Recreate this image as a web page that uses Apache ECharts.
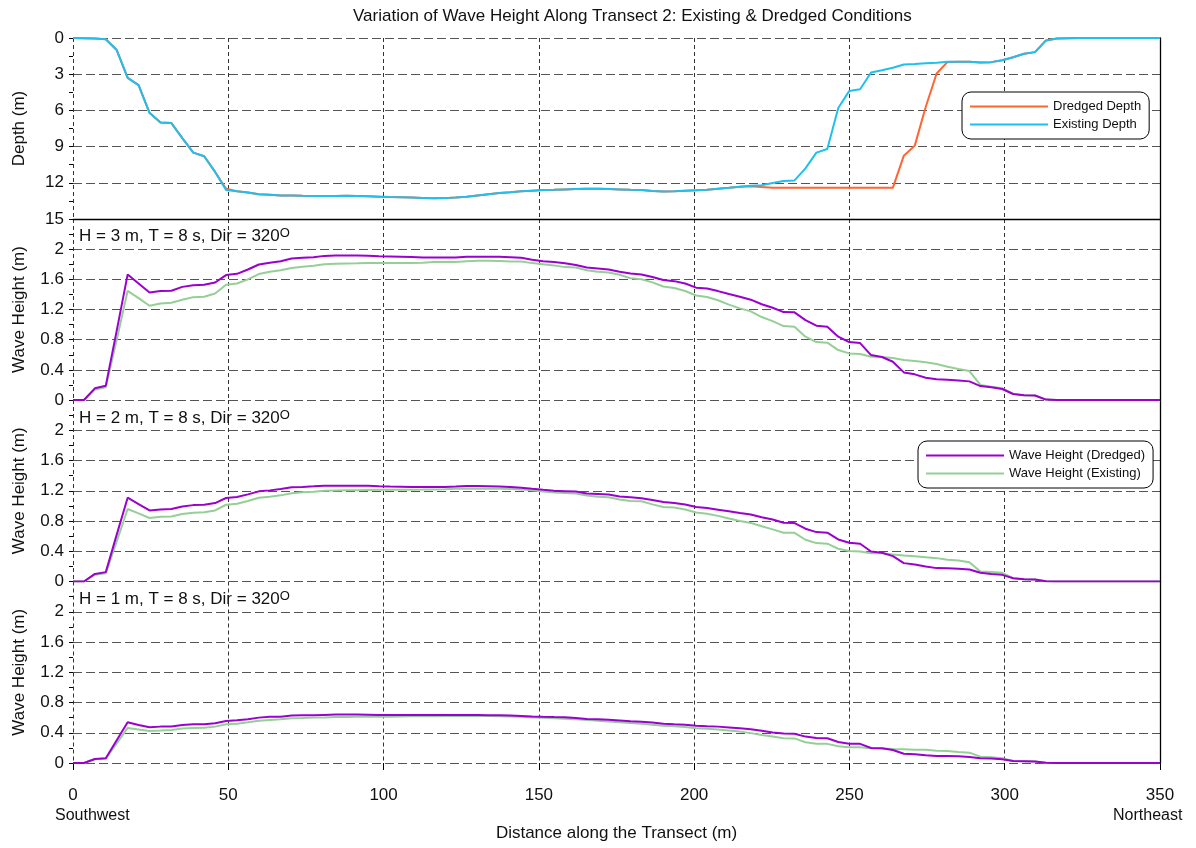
<!DOCTYPE html>
<html><head><meta charset="utf-8">
<script src="https://cdn.jsdelivr.net/npm/echarts@6/dist/echarts.min.js"></script>
<style>html,body{margin:0;padding:0;background:#fff}#c{width:1196px;height:848px}</style>
</head><body><div id="c"></div>
<script>
const distance = [0,3.52,7.04,10.56,14.08,17.6,21.12,24.64,28.16,31.68,
35.2,38.72,42.24,45.76,49.28,52.8,56.32,59.84,63.36,66.88,
70.4,73.92,77.44,80.96,84.48,88,91.52,95.04,98.56,102.08,
105.6,109.12,112.64,116.16,119.68,123.2,126.72,130.24,133.76,137.28,
140.8,144.32,147.84,151.36,154.88,158.4,161.92,165.44,168.96,172.48,
176,179.52,183.04,186.56,190.08,193.6,197.12,200.64,204.16,207.68,
211.2,214.72,218.24,221.76,225.28,228.8,232.32,235.84,239.36,242.88,
246.4,249.92,253.44,256.96,260.48,264,267.52,271.04,274.56,278.08,
281.6,285.12,288.64,292.16,295.68,299.2,302.72,306.24,309.76,313.28,
316.8,320.32,323.84,327.36,330.88,334.4,337.92,341.44,344.96,348.48,
350];

const existingDepth = [0,0.02,0.05,0.1,1.0,3.3,3.9,6.2,7.0,7.05,
8.3,9.5,9.8,11.1,12.6,12.7,12.8,12.95,13.0,13.05,
13.05,13.08,13.1,13.1,13.1,13.08,13.1,13.12,13.15,13.18,
13.2,13.22,13.25,13.28,13.27,13.22,13.15,13.05,12.95,12.85,
12.78,12.7,12.65,12.6,12.58,12.55,12.52,12.5,12.5,12.52,
12.55,12.58,12.6,12.68,12.72,12.7,12.65,12.62,12.58,12.5,
12.42,12.32,12.25,12.2,12.02,11.85,11.8,10.8,9.5,9.2,
5.8,4.4,4.25,2.86,2.67,2.47,2.19,2.15,2.1,2.05,
1.97,1.97,1.97,2.03,2.0,1.85,1.6,1.3,1.17,0.2,
0.05,0.02,0,0,0,0,0,0,0,0,
0];

const dredgedDepth = [0,0.02,0.05,0.1,1.0,3.3,3.9,6.2,7.0,7.05,
8.3,9.5,9.8,11.1,12.5,12.7,12.8,12.95,13.0,13.05,
13.05,13.08,13.1,13.1,13.1,13.08,13.1,13.12,13.15,13.18,
13.2,13.22,13.25,13.28,13.27,13.22,13.15,13.05,12.95,12.85,
12.78,12.7,12.65,12.6,12.58,12.55,12.52,12.5,12.5,12.52,
12.55,12.58,12.6,12.68,12.72,12.7,12.65,12.62,12.58,12.5,
12.42,12.32,12.28,12.35,12.4,12.4,12.4,12.4,12.4,12.4,
12.4,12.4,12.4,12.4,12.4,12.4,9.75,8.92,5.72,2.94,
1.98,1.97,1.97,2.03,2.0,1.85,1.6,1.3,1.17,0.2,
0.05,0.02,0,0,0,0,0,0,0,0,
0];

const waveH3Dredged = [0,0,0.155,0.19,0.92,1.665,1.545,1.426,1.444,1.448,
1.5,1.523,1.527,1.558,1.656,1.673,1.73,1.797,1.82,1.84,
1.876,1.885,1.894,1.911,1.915,1.915,1.915,1.912,1.905,1.903,
1.9,1.895,1.89,1.89,1.89,1.89,1.898,1.9,1.9,1.898,
1.893,1.885,1.86,1.84,1.83,1.812,1.79,1.757,1.745,1.73,
1.7,1.678,1.665,1.63,1.59,1.576,1.545,1.49,1.478,1.444,
1.405,1.37,1.33,1.27,1.223,1.166,1.162,1.06,0.985,0.971,
0.84,0.768,0.755,0.596,0.57,0.507,0.366,0.34,0.296,0.274,
0.27,0.26,0.247,0.185,0.168,0.146,0.08,0.062,0.06,0.005,
0,0,0,0,0,0,0,0,0,0,
0];

const waveH3Existing = [0,0,0.14,0.17,0.8,1.448,1.35,1.25,1.28,1.29,
1.33,1.364,1.37,1.413,1.527,1.545,1.6,1.67,1.7,1.72,
1.75,1.766,1.78,1.8,1.805,1.81,1.812,1.815,1.818,1.818,
1.816,1.815,1.82,1.83,1.83,1.83,1.84,1.845,1.845,1.842,
1.836,1.835,1.815,1.8,1.785,1.762,1.757,1.72,1.7,1.69,
1.66,1.615,1.6,1.56,1.505,1.485,1.445,1.385,1.365,1.322,
1.265,1.215,1.175,1.1,1.046,0.98,0.97,0.84,0.768,0.76,
0.662,0.618,0.609,0.574,0.57,0.556,0.53,0.517,0.5,0.477,
0.44,0.41,0.384,0.2,0.177,0.155,0.08,0.062,0.06,0.005,
0,0,0,0,0,0,0,0,0,0,
0];

const waveH2Dredged = [0,0,0.1,0.124,0.62,1.108,1.024,0.94,0.953,0.958,
0.993,1.01,1.015,1.037,1.104,1.117,1.152,1.192,1.205,1.223,
1.245,1.25,1.258,1.267,1.267,1.267,1.267,1.265,1.26,1.256,
1.253,1.25,1.25,1.25,1.25,1.255,1.262,1.262,1.26,1.255,
1.248,1.24,1.225,1.212,1.2,1.195,1.19,1.165,1.158,1.15,
1.125,1.115,1.1,1.078,1.05,1.037,1.018,0.985,0.972,0.95,
0.928,0.905,0.885,0.85,0.82,0.777,0.773,0.698,0.653,0.645,
0.556,0.512,0.499,0.397,0.38,0.335,0.243,0.225,0.199,0.177,
0.175,0.168,0.159,0.115,0.1,0.088,0.044,0.031,0.027,0.003,
0,0,0,0,0,0,0,0,0,0,
0];

const waveH2Existing = [0,0,0.09,0.11,0.53,0.958,0.9,0.84,0.857,0.86,
0.892,0.91,0.915,0.94,1.015,1.029,1.064,1.108,1.12,1.139,
1.166,1.179,1.187,1.2,1.203,1.205,1.207,1.21,1.212,1.214,
1.214,1.214,1.215,1.218,1.22,1.225,1.227,1.227,1.227,1.225,
1.222,1.215,1.205,1.19,1.178,1.17,1.165,1.138,1.12,1.115,
1.085,1.066,1.06,1.02,0.985,0.978,0.952,0.912,0.897,0.868,
0.832,0.8,0.775,0.73,0.689,0.645,0.643,0.552,0.508,0.5,
0.433,0.402,0.397,0.375,0.375,0.358,0.344,0.335,0.322,0.309,
0.287,0.278,0.256,0.132,0.124,0.115,0.044,0.031,0.027,0.003,
0,0,0,0,0,0,0,0,0,0,
0];

const waveH1Dredged = [0,0,0.053,0.062,0.3,0.539,0.503,0.473,0.481,0.484,
0.503,0.512,0.514,0.525,0.556,0.565,0.578,0.6,0.61,0.613,
0.627,0.63,0.632,0.636,0.64,0.64,0.64,0.638,0.636,0.635,
0.634,0.634,0.634,0.634,0.635,0.636,0.636,0.635,0.633,0.63,
0.627,0.622,0.615,0.61,0.607,0.605,0.595,0.583,0.578,0.572,
0.563,0.553,0.547,0.535,0.52,0.512,0.506,0.494,0.487,0.481,
0.47,0.459,0.447,0.425,0.402,0.389,0.387,0.349,0.331,0.328,
0.278,0.256,0.253,0.199,0.195,0.172,0.123,0.115,0.102,0.093,
0.092,0.09,0.079,0.062,0.06,0.049,0.026,0.023,0.02,0.002,
0,0,0,0,0,0,0,0,0,0,
0];

const waveH1Existing = [0,0,0.05,0.058,0.26,0.464,0.444,0.424,0.43,0.437,
0.455,0.464,0.466,0.481,0.512,0.52,0.539,0.56,0.57,0.578,
0.592,0.595,0.6,0.603,0.607,0.609,0.61,0.611,0.612,0.613,
0.615,0.617,0.618,0.619,0.62,0.62,0.62,0.62,0.62,0.618,
0.615,0.61,0.602,0.598,0.593,0.585,0.58,0.57,0.56,0.55,
0.539,0.528,0.52,0.505,0.494,0.485,0.475,0.459,0.452,0.442,
0.43,0.415,0.395,0.371,0.35,0.327,0.325,0.274,0.256,0.253,
0.221,0.208,0.207,0.195,0.193,0.185,0.183,0.176,0.174,0.163,
0.158,0.146,0.137,0.084,0.075,0.062,0.026,0.023,0.02,0.002,
0,0,0,0,0,0,0,0,0,0,
0];

const panelLabels = ['H = 3 m, T = 8 s, Dir = 320', 'H = 2 m, T = 8 s, Dir = 320', 'H = 1 m, T = 8 s, Dir = 320'];
const depthLegend = ['Dredged Depth', 'Existing Depth'];
const waveLegend = ['Wave Height (Dredged)', 'Wave Height (Existing)'];

const FONT = '"Liberation Sans", Arial, Helvetica, sans-serif';
const C_ORANGE = '#FF6533';
const C_CYAN = '#1EC0EE';
const C_PURPLE = '#9B00CF';
const C_GREEN = '#96CF96';

function pairs(arr) { return distance.map((d, i) => [d, arr[i]]); }

const grids = [
  {left: 73, right: 36, top: 38, height: 181},
  {left: 73, right: 36, top: 219, height: 181},
  {left: 73, right: 36, top: 400, height: 181.5},
  {left: 73, right: 36, top: 581.5, height: 181.5}
];

const xAxes = grids.map((g, i) => ({
  type: 'value', gridIndex: i, min: 0, max: 350, interval: 50,
  position: 'bottom',
  axisLine: {show: i === 0, onZero: false, lineStyle: {color: '#000', width: 1.3}},
  axisTick: {show: i === 3, length: 7, lineStyle: {color: '#000'}},
  axisLabel: {show: i === 3, fontSize: 17, color: '#111', fontFamily: FONT, margin: 24},
  splitLine: {show: true, lineStyle: {color: '#333', type: [4, 3], width: 1}},
  name: i === 3 ? 'Distance along the Transect (m)' : '',
  nameLocation: 'middle', nameGap: 62,
  nameTextStyle: {fontSize: 17, color: '#111', fontFamily: FONT}
}));

const leftY = grids.map((g, i) => {
  const isDepth = i === 0;
  return {
    type: 'value', gridIndex: i,
    min: 0, max: isDepth ? 15 : 2.4, interval: isDepth ? 3 : 0.4,
    inverse: isDepth,
    axisLine: {show: false},
    axisTick: {show: true, length: 4, lineStyle: {color: '#000'}},
    minorTick: {show: true, splitNumber: 2, length: 4, lineStyle: {color: '#000'}},
    axisLabel: {
      fontSize: 17, color: '#111', fontFamily: FONT, margin: 9,
      formatter: v => (!isDepth && v > 2.1) ? '' : String(Number(v.toFixed(1)))
    },
    splitLine: {show: true, lineStyle: {color: '#555', type: [9, 4], width: 1}},
    name: isDepth ? 'Depth (m)' : 'Wave Height (m)',
    nameLocation: 'middle', nameGap: 45, nameRotate: 90,
    nameTextStyle: {fontSize: 17, color: '#111', fontFamily: FONT}
  };
});

const rightY = grids.map((g, i) => ({
  type: 'value', gridIndex: i, position: 'right',
  min: 0, max: i === 0 ? 15 : 2.4,
  axisLine: {show: true, lineStyle: {color: '#000', width: 1.3}},
  axisTick: {show: false}, axisLabel: {show: false}, splitLine: {show: false}
}));

function lineSeries(name, arr, color, gi, z) {
  return {
    type: 'line', name, data: pairs(arr), xAxisIndex: gi, yAxisIndex: gi,
    symbol: 'none', showSymbol: false, z,
    lineStyle: {color, width: 2}, itemStyle: {color},
    animation: false
  };
}

const series = [
  lineSeries('Dredged Depth', dredgedDepth, C_ORANGE, 0, 2),
  lineSeries('Existing Depth', existingDepth, C_CYAN, 0, 3),
  lineSeries('Wave Height (Existing)', waveH3Existing, C_GREEN, 1, 2),
  lineSeries('Wave Height (Dredged)', waveH3Dredged, C_PURPLE, 1, 3),
  lineSeries('Wave Height (Existing)', waveH2Existing, C_GREEN, 2, 2),
  lineSeries('Wave Height (Dredged)', waveH2Dredged, C_PURPLE, 2, 3),
  lineSeries('Wave Height (Existing)', waveH1Existing, C_GREEN, 3, 2),
  lineSeries('Wave Height (Dredged)', waveH1Dredged, C_PURPLE, 3, 3)
];

const panelTops = [227, 409, 590];
const plain = (size) => ({fontSize: size, fontWeight: 'normal', color: '#111', fontFamily: FONT});
const titles = [
  {text: 'Variation of Wave Height Along Transect 2: Existing & Dredged Conditions',
   left: 353, top: 8, padding: 0, textStyle: plain(17)},
  {text: 'Southwest', left: 55, top: 808, padding: 0, textStyle: plain(16)},
  {text: 'Northeast', left: 1113, top: 808, padding: 0, textStyle: plain(16)}
].concat(panelLabels.map((t, i) => ({
  text: t + '{o|O}', left: 79, top: panelTops[i], padding: 0,
  textStyle: Object.assign(plain(17), {lineHeight: 19,
    rich: {o: {fontSize: 13, lineHeight: 13, verticalAlign: 'top', color: '#111', fontFamily: FONT}}})
})));

const legendCommon = {
  orient: 'vertical', itemWidth: 78, itemHeight: 12, itemGap: 5,
  borderColor: '#000', borderWidth: 1, borderRadius: 9,
  backgroundColor: '#fff',
  itemStyle: {opacity: 0},
  textStyle: {fontSize: 13, color: '#111', fontFamily: FONT},
  selectedMode: false
};

const option = {
  animation: false,
  backgroundColor: '#fff',
  title: titles,
  grid: grids,
  xAxis: xAxes,
  yAxis: leftY.concat(rightY),
  legend: [
    Object.assign({}, legendCommon, {data: depthLegend, left: 962, top: 92, padding: [8, 8, 8, 7]}),
    Object.assign({}, legendCommon, {data: waveLegend, left: 918, top: 441, padding: [8, 8, 8, 7]})
  ],
  series
};

const chart = echarts.init(document.getElementById('c'), null, {renderer: 'canvas'});
chart.setOption(option);
</script>
</body></html>
